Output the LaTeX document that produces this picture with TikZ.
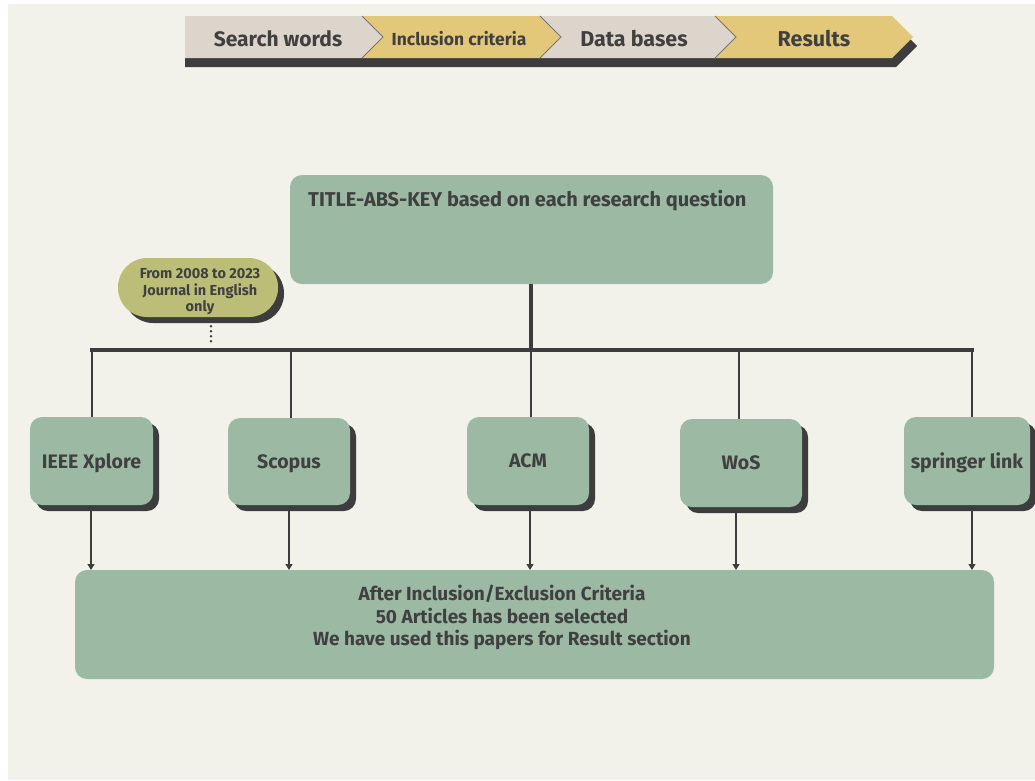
\documentclass[tikz,border=0pt]{standalone}
\usepackage{fontspec}
\setmainfont{Fira Sans}
\usetikzlibrary{arrows.meta,shapes.misc,shadows,calc}
\definecolor{bgc}{HTML}{F2F2EB}
\definecolor{gboxc}{HTML}{9CBAA3}
\definecolor{darkc}{HTML}{3D3D3D}
\definecolor{beigec}{HTML}{DDD5CB}
\definecolor{yellowc}{HTML}{E4C87A}
\definecolor{olivec}{HTML}{BCBE78}
\definecolor{txtc}{HTML}{404040}
\tikzset{
  gbox/.style={fill=gboxc, rounded corners=12pt, inner sep=0pt, text=txtc, font=\bfseries\fontsize{19.5}{22}\selectfont},
  dbbox/.style={gbox, minimum width=123pt, minimum height=88pt, text depth=0pt,
     drop shadow={shadow xshift=6pt, shadow yshift=-6pt, opacity=1, fill=darkc}},
  thin line/.style={draw=darkc, line width=1.2pt},
  thick line/.style={draw=darkc, line width=4pt},
  arr/.style={draw=darkc, line width=1.2pt, -{Triangle[length=6pt,width=7pt]}},
  dotline/.style={draw=darkc, line width=2.6pt, line cap=round, dash pattern=on 0pt off 5pt},
  bantext/.style={text=txtc, font=\bfseries\fontsize{21.5}{24}\selectfont, inner sep=0pt},
}
\begin{document}
\begin{tikzpicture}[x=1pt,y=-1pt]
\useasboundingbox (0,0) rectangle (1035,780);
\fill[white] (0,0) rectangle (1035,780);
\fill[bgc] (8,4) rectangle (1035,780);
% banner
\fill[darkc] (185,25) -- (896,25) -- (917,46) -- (896,67) -- (185,67) -- cycle;
\fill[beigec] (185,16) -- (362,16) -- (383,37) -- (362,58) -- (185,58) -- cycle;
\fill[yellowc] (362,16) -- (540,16) -- (561,37) -- (540,58) -- (362,58) -- (383,37) -- cycle;
\fill[beigec] (540,16) -- (715,16) -- (736,37) -- (715,58) -- (540,58) -- (561,37) -- cycle;
\fill[yellowc] (715,16) -- (892,16) -- (913,37) -- (892,58) -- (715,58) -- (736,37) -- cycle;
\draw[darkc!70, line width=0.8pt] (362,16) -- (383,37) -- (362,58);
\draw[darkc!70, line width=0.8pt] (540,16) -- (561,37) -- (540,58);
\draw[darkc!70, line width=0.8pt] (715,16) -- (736,37) -- (715,58);
\node[bantext, font=\bfseries\fontsize{21}{24}\selectfont] (s1) at (278,38.5) {Search words};
\node[bantext, font=\bfseries\fontsize{17.5}{20}\selectfont] (s2) at (459,38.5) {Inclusion criteria};
\node[bantext] (s3) at (634,38.5) {Data bases};
\node[bantext] (s4) at (814,38.5) {Results};
% title box
\node[gbox, minimum width=483pt, minimum height=109pt] (title) at (531.5,229.5) {};
\node[text=txtc, font=\bfseries\fontsize{20}{22}\selectfont, anchor=west, inner sep=0pt] (titletext) at (308,201) {TITLE-ABS-KEY based on each research question};
% bar
\coordinate (barL) at (90,350);
\coordinate (barR) at (974,350);
\coordinate (b1) at (92,350);
\coordinate (b2) at (291,350);
\coordinate (b3) at (531,350);
\coordinate (b4) at (739,350);
\coordinate (b5) at (972,350);
\draw[thick line] (title.south -| b3) -- (b3);
\draw[thick line] (barL) -- (barR);
% pill
\node[rectangle, rounded corners=29pt, fill=olivec, minimum width=160pt, minimum height=59pt, inner sep=0pt,
  drop shadow={shadow xshift=6pt, shadow yshift=-6pt, opacity=1, fill=darkc}] (pill) at (198,287.5) {};
\node[text=txtc, align=center, inner sep=0pt, font=\bfseries\fontsize{14.5}{16.5}\selectfont] (pilltext) at (200,292)
  {From 2008 to 2023\\Journal in English\\only};
\coordinate (pd) at (211,346);
\draw[dotline] ($(pill.south)+(13,9)$) -- (pd);
% database boxes
\node[dbbox] (ieee) at (91.5,461) {IEEE Xplore};
\node[dbbox, minimum width=122pt, minimum height=87pt] (scopus) at (289,461.5) {Scopus};
\node[dbbox, minimum width=122pt] (acm) at (528,461) {ACM};
\node[dbbox, minimum width=122pt] (wos) at (741,463) {WoS};
\node[dbbox, minimum width=126pt] (springer) at (967,461) {springer link};
\draw[thin line] (b1) -- (b1 |- ieee.north);
\draw[thin line] (b2) -- (b2 |- scopus.north);
\draw[thin line] (b3) -- (b3 |- acm.north);
\draw[thin line] (b4) -- (b4 |- wos.north);
\draw[thin line] (b5) -- (b5 |- springer.north);
% result box
\node[gbox, minimum width=919pt, minimum height=109pt] (result) at (534.5,624.5) {};
\node[text=txtc, align=center, inner sep=0pt, font=\bfseries\fontsize{19}{22.5}\selectfont] (resulttext) at (502,617.5)
  {After Inclusion/Exclusion Criteria\\50 Articles has been selected\\We have used this papers for Result section};
\coordinate (a1) at (91,570);
\coordinate (a2) at (289,570);
\coordinate (a3) at (530,570);
\coordinate (a4) at (736,570);
\coordinate (a5) at (972,570);
\draw[arr] (a1 |- ieee.south) ++(0,6) -- (a1);
\draw[arr] (a2 |- scopus.south) ++(0,6) -- (a2);
\draw[arr] (a3 |- acm.south) ++(0,6) -- (a3);
\draw[arr] (a4 |- wos.south) ++(0,6) -- (a4);
\draw[arr] (a5 |- springer.south) ++(0,6) -- (a5);
\end{tikzpicture}
\end{document}
